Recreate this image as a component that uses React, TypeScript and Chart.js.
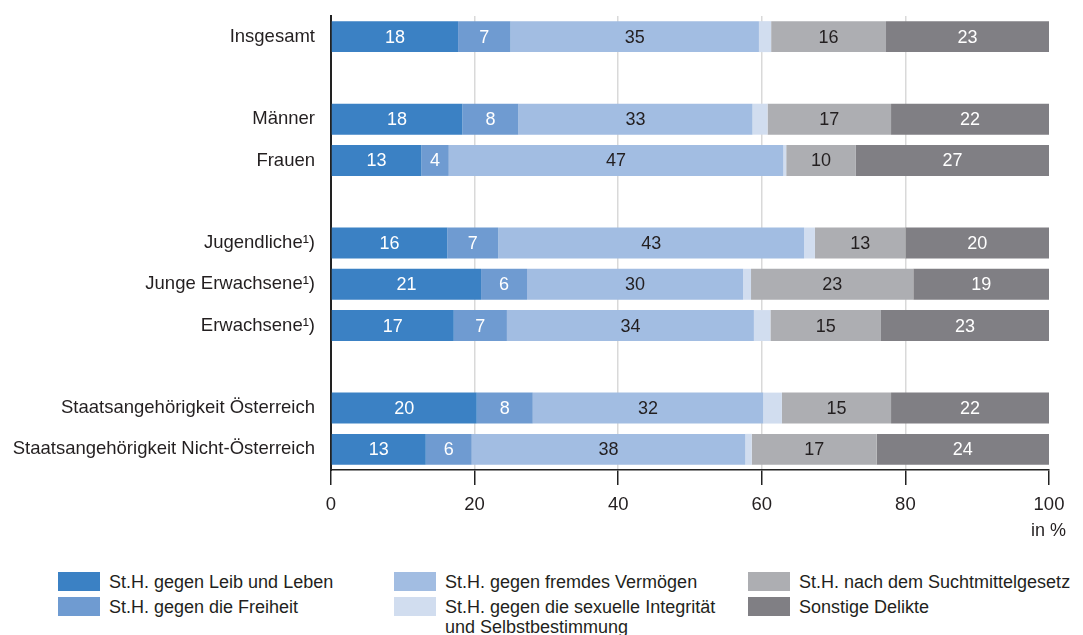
import React, { useEffect, useRef } from "react";
import { Chart, registerables } from "chart.js";

Chart.register(...registerables);

const categories = [
  "Insgesamt",
  "",
  "Männer",
  "Frauen",
  "",
  "Jugendliche¹)",
  "Junge Erwachsene¹)",
  "Erwachsene¹)",
  "",
  "Staatsangehörigkeit Österreich",
  "Staatsangehörigkeit Nicht-Österreich",
];

const leibUndLeben = [17.7, null, 18.3, 12.6, null, 16.2, 20.9, 17.1, null, 20.3, 13.2];
const freiheit = [7.3, null, 7.8, 3.8, null, 7.1, 6.4, 7.4, null, 7.8, 6.4];
const vermoegen = [34.6, null, 32.6, 46.6, null, 42.6, 30.1, 34.4, null, 32.1, 38.1];
const sexuelle = [1.7, null, 2.1, 0.4, null, 1.5, 1.1, 2.3, null, 2.6, 0.9];
const sucht = [16.0, null, 17.2, 9.7, null, 12.6, 22.6, 15.4, null, 15.2, 17.4];
const sonstige = [22.7, null, 22.0, 26.9, null, 20.0, 18.9, 23.4, null, 22.0, 24.0];

const seriesNames = [
  "St.H. gegen Leib und Leben",
  "St.H. gegen die Freiheit",
  "St.H. gegen fremdes Vermögen",
  "St.H. gegen die sexuelle Integrität\nund Selbstbestimmung",
  "St.H. nach dem Suchtmittelgesetz",
  "Sonstige Delikte",
];
const seriesValues = [leibUndLeben, freiheit, vermoegen, sexuelle, sucht, sonstige];
const seriesColors = ["#3b81c4", "#6f9bd1", "#a2bde2", "#d1ddef", "#adaeb2", "#807f84"];
const labelColors = ["#ffffff", "#ffffff", "#231f20", null, "#231f20", "#ffffff"];

const xTicks = [0, 20, 40, 60, 80, 100];
const unitLabel = "in %";

const FONT = "'Liberation Sans', Arial, Helvetica, sans-serif";
const TEXT = "#231f20";

const valueLabels = {
  id: "valueLabels",
  afterDatasetsDraw(chart: any) {
    const ctx = chart.ctx;
    ctx.save();
    ctx.font = `18px ${FONT}`;
    ctx.textAlign = "center";
    ctx.textBaseline = "middle";
    chart.data.datasets.forEach((ds: any, di: number) => {
      const color = labelColors[di];
      if (!color) return;
      const meta = chart.getDatasetMeta(di);
      meta.data.forEach((el: any, i: number) => {
        const v = ds.data[i];
        if (v === null || v === undefined) return;
        ctx.fillStyle = color;
        ctx.fillText(String(Math.round(v)), (el.x + el.base) / 2, el.y + 1);
      });
    });
    ctx.restore();
  },
};

export default function App() {
  const ref = useRef<HTMLCanvasElement | null>(null);

  useEffect(() => {
    if (!ref.current) return;
    const chart = new Chart(ref.current, {
      type: "bar",
      data: {
        labels: categories,
        datasets: seriesValues.map((vals, i) => ({
          label: seriesNames[i],
          data: vals,
          backgroundColor: seriesColors[i],
          borderWidth: 0,
          barPercentage: 0.75,
          categoryPercentage: 1,
        })),
      },
      options: {
        indexAxis: "y",
        animation: false,
        responsive: false,
        devicePixelRatio: 1,
        layout: { padding: { left: 0, right: 34, top: 16, bottom: 0 } },
        plugins: {
          legend: { display: false },
          tooltip: { enabled: false },
        },
        scales: {
          x: {
            stacked: true,
            min: 0,
            max: 100,
            afterBuildTicks: (scale: any) => {
              scale.ticks = xTicks.map((v) => ({ value: v }));
            },
            afterFit: (scale: any) => {
              scale.height = 75;
              scale.paddingLeft = 0;
              scale.paddingRight = 0;
            },
            ticks: {
              color: TEXT,
              font: { family: FONT, size: 18.5 },
              padding: 9,
              maxRotation: 0,
            },
            grid: {
              color: (c: any) =>
                c.tick && (c.tick.value === 0 || c.tick.value === 100) ? "rgba(0,0,0,0)" : "#d9d9d9",
              lineWidth: 1.5,
              tickColor: "#222222",
              tickWidth: 1.5,
              tickLength: 15,
              drawTicks: true,
            },
            border: { display: true, color: "#222222", width: 1.5 },
          },
          y: {
            stacked: true,
            afterFit: (scale: any) => {
              scale.width = 331;
              scale.paddingTop = 0;
              scale.paddingBottom = 0;
            },
            ticks: {
              color: TEXT,
              font: { family: FONT, size: 18.5 },
              padding: 16,
              autoSkip: false,
            },
            grid: { display: false, drawTicks: false },
            border: { display: true, color: "#222222", width: 2 },
          },
        },
      },
      plugins: [valueLabels],
    });
    return () => chart.destroy();
  }, []);

  return (
    <div style={{ position: "absolute", left: 0, top: 0, width: 1083, height: 635, background: "#fff", fontFamily: FONT, color: TEXT }}>
      <canvas ref={ref} width={1083} height={545} style={{ position: "absolute", left: 0, top: 0, width: 1083, height: 545 }} />
      <div style={{ position: "absolute", left: 1031, top: 518, fontSize: 18, lineHeight: "24px" }}>{unitLabel}</div>
      {seriesNames.map((name, i) => {
        const col = Math.floor(i / 2);
        const row = i % 2;
        const left = [58, 394, 748][col];
        const top = 572 + row * 25;
        return (
          <div key={i}>
            <div style={{ position: "absolute", left, top, width: 42, height: 19, background: seriesColors[i] }} />
            <div
              style={{
                position: "absolute",
                left: left + 51,
                top: top - 0.5,
                fontSize: 18,
                lineHeight: "20px",
                whiteSpace: "pre",
              }}
            >
              {name}
            </div>
          </div>
        );
      })}
    </div>
  );
}
